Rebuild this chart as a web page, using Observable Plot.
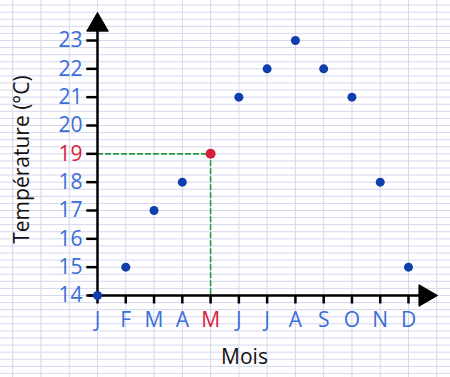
<!DOCTYPE html>
<html>
<head>
<meta charset="utf-8">
<script src="https://cdn.jsdelivr.net/npm/d3@7"></script>
<script src="https://cdn.jsdelivr.net/npm/@observablehq/plot@0.6"></script>
<style>
  html, body { margin: 0; padding: 0; background: #fff; }
</style>
</head>
<body>
<div id="chart"></div>
<script>
const months = ["J", "F", "M", "A", "M", "J", "J", "A", "S", "O", "N", "D"];
const temperatures = [14, 15, 17, 18, 19, 21, 22, 23, 22, 21, 18, 15];
const yTicks = [14, 15, 16, 17, 18, 19, 20, 21, 22, 23];
const highlightIndex = 4;
const xLabel = "Mois";
const yLabel = "Température (°C)";

const blue = "#3a6fd6";
const dotBlue = "#0f3fae";
const red = "#d81e3c";
const green = "#2e9a44";
const gridColor = "#d6d6ee";

const data = months.map((m, i) => ({i, month: m, temp: temperatures[i]}));
const hl = data[highlightIndex];
const xIdx = d3.range(months.length);
const yMin = d3.min(yTicks), yMax = d3.max(yTicks);

// grid paper (decorative)
const gridX = d3.range(-4, 14);
const gridY = d3.range(10, 25.01, 0.25);

const chart = Plot.plot({
  width: 450,
  height: 377,
  marginLeft: 97,
  marginRight: 42,
  marginTop: 40,
  marginBottom: 82,
  x: {type: "linear", domain: [0, months.length - 1], axis: null},
  y: {type: "linear", domain: [yMin, yMax], axis: null},
  style: {fontFamily: "'Open Sans', sans-serif", background: "#fff"},
  marks: [
    Plot.ruleY(gridY, {y: d => d, x1: -4, x2: 14, stroke: gridColor, strokeWidth: 1, clip: false}),
    Plot.ruleX(gridX, {x: d => d, y1: 10, y2: 26, stroke: gridColor, strokeWidth: 1, clip: false}),
    // dashed guide to highlighted point
    Plot.line([{x: 0, y: hl.temp}, {x: hl.i, y: hl.temp}, {x: hl.i, y: yMin}],
      {x: "x", y: "y", stroke: green, strokeWidth: 1.6, strokeDasharray: "5,3"}),
    // y ticks
    Plot.ruleY(yTicks, {y: d => d, x1: -0.38, x2: 0, stroke: "black", strokeWidth: 2.5}),
    // x ticks
    Plot.ruleX(xIdx, {x: d => d, y1: yMin - 0.3, y2: yMin, stroke: "black", strokeWidth: 2.5}),
    // axes
    Plot.ruleX([0], {y1: yMin, y2: yMax + 0.5, stroke: "black", strokeWidth: 2.5}),
    Plot.ruleY([yMin], {x1: -0.3, x2: months.length - 1 + 0.5, stroke: "black", strokeWidth: 2.5}),
    Plot.dot([{x: 0, y: yMax + 0.55}], {x: "x", y: "y", symbol: "triangle", r: 8, fill: "black", stroke: "black", strokeWidth: 1, rotate: 0}),
    Plot.dot([{x: months.length - 1 + 0.59, y: yMin}], {x: "x", y: "y", symbol: "triangle", r: 8, fill: "black", stroke: "black", strokeWidth: 1, rotate: 90}),
    // y labels
    Plot.text(yTicks, {y: d => d, x: () => 0, text: d => String(d), dx: -15, textAnchor: "end", lineAnchor: "middle",
      fill: d => d === hl.temp ? red : blue, fontSize: 21, fontWeight: 400}),
    // x labels
    Plot.text(data, {x: "i", y: () => yMin, text: "month", dy: 25, lineAnchor: "middle",
      fill: d => d.i === highlightIndex ? red : blue, fontSize: 21, fontWeight: 400}),
    // points
    Plot.dot(data.filter(d => d.i !== highlightIndex), {x: "i", y: "temp", r: 4.5, fill: dotBlue}),
    Plot.dot([hl], {x: "i", y: "temp", r: 5, fill: red}),
    // axis titles
    Plot.text([xLabel], {x: () => 5.2, y: () => yMin, text: d => d, dy: 62, fontSize: 21, fill: "#111", fontWeight: 400}),
    Plot.text([yLabel], {x: () => 0, y: () => 18.8, text: d => d, rotate: -90, dx: -75, fontSize: 21, fill: "#111", fontWeight: 400})
  ]
});
document.getElementById("chart").appendChild(chart);
</script>
</body>
</html>
